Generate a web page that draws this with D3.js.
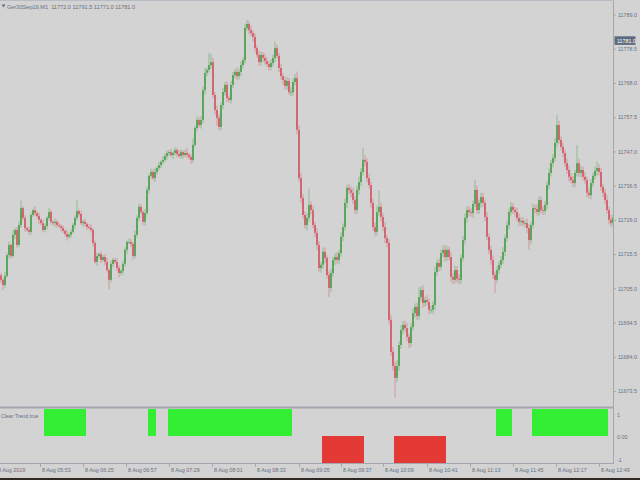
<!DOCTYPE html>
<html><head><meta charset="utf-8">
<script src="https://cdn.jsdelivr.net/npm/d3@7"></script>
<style>body{margin:0;background:#d3d3d3;} svg{display:block}</style>
</head><body><svg id="c" width="640" height="480"></svg>
<script>
const title = "Ger30Sep19,M1  11772.0 11791.5 11771.0 11781.0";
const firstOpen = 11709.0;
const closes = [
11707.6,11706.0,11708.8,11715.2,11718.3,11714.9,11721.4,11722.9,11718.3,11724.4,
11729.6,11726.6,11723.5,11722.9,11722.3,11727.5,11729.0,11728.1,11727.2,11726.0,
11725.0,11722.9,11724.1,11726.6,11728.4,11725.4,11725.0,11725.4,11724.4,11724.1,
11723.5,11722.6,11721.7,11720.8,11721.4,11722.3,11724.4,11726.6,11728.7,11727.8,
11725.0,11725.4,11724.7,11723.8,11723.5,11722.9,11718.9,11713.1,11714.9,11715.5,
11713.7,11714.6,11713.1,11710.6,11707.6,11712.5,11713.7,11713.1,11711.2,11709.7,
11710.3,11712.5,11716.8,11719.2,11719.2,11718.6,11714.9,11721.4,11726.6,11730.0,
11728.4,11725.4,11728.1,11735.2,11739.5,11740.7,11738.8,11740.7,11741.9,11742.8,
11743.8,11744.4,11745.6,11746.5,11746.8,11745.9,11746.5,11747.4,11746.2,11745.6,
11746.8,11745.9,11746.5,11745.9,11745.3,11744.4,11749.0,11754.2,11756.6,11755.1,
11756.6,11765.8,11771.1,11772.0,11773.5,11774.4,11764.3,11759.7,11757.3,11754.5,
11761.2,11765.2,11767.4,11763.4,11762.8,11767.4,11770.4,11771.4,11770.1,11771.4,
11773.5,11775.0,11784.9,11786.1,11784.2,11783.3,11782.1,11778.7,11776.6,11774.4,
11776.6,11775.7,11774.7,11773.8,11772.9,11774.1,11775.7,11778.7,11776.3,11772.6,
11770.1,11768.9,11767.1,11768.6,11765.2,11765.2,11768.3,11769.5,11753.6,11738.8,
11732.7,11727.5,11724.4,11726.6,11730.6,11729.0,11724.4,11722.0,11718.3,11711.2,
11712.2,11716.2,11714.3,11709.1,11705.1,11709.7,11713.7,11714.6,11713.7,11715.8,
11720.8,11723.8,11731.2,11735.8,11735.2,11734.3,11732.1,11729.0,11735.2,11737.6,
11740.7,11744.4,11743.8,11738.8,11736.7,11731.2,11723.8,11722.3,11728.4,11730.0,
11726.9,11723.8,11720.4,11718.9,11695.3,11685.5,11681.2,11677.5,11681.2,11687.6,
11692.2,11693.8,11692.8,11690.1,11688.2,11693.1,11697.4,11699.3,11696.5,11702.3,
11704.5,11700.5,11701.4,11700.8,11698.4,11698.4,11699.9,11710.0,11712.8,11711.6,
11715.8,11716.8,11714.6,11716.8,11714.6,11708.5,11707.6,11710.6,11707.9,11707.6,
11714.3,11719.8,11726.6,11729.0,11728.4,11728.1,11730.9,11735.2,11729.0,11731.2,
11733.0,11731.2,11726.9,11720.8,11716.8,11713.7,11709.1,11707.6,11710.6,11712.2,
11713.7,11716.2,11720.4,11724.4,11728.4,11730.0,11729.0,11728.4,11726.6,11725.4,
11725.7,11725.0,11725.0,11723.5,11719.8,11724.4,11729.6,11729.3,11728.4,11732.1,
11729.0,11728.7,11730.6,11736.7,11740.4,11743.4,11745.0,11749.6,11755.1,11750.5,
11748.4,11746.5,11743.4,11741.3,11739.2,11738.2,11737.3,11740.4,11743.4,11740.4,
11741.3,11739.2,11738.2,11734.3,11733.6,11737.3,11739.5,11741.0,11741.9,11740.7,
11736.1,11734.3,11732.1,11729.0,11726.0,11725.0,11726.6];
const wickUp = [
0.8,0.5,1.2,0.6,1.0,0.4,1.5,0.7,0.9,1.1,
2.5,0.6,0.8,0.5,1.0,0.7,0.4,1.2,0.6,0.9,
0.5,1.1,0.7,0.6,1.3,0.8,0.5,1.0,0.6,0.9,
0.6,0.8,0.5,1.2,0.7,1.0,0.6,0.9,3.5,0.5,
0.9,0.6,1.0,0.5,0.8,1.2,0.6,0.7,1.1,0.5,
0.8,0.6,0.9,1.3,0.5,1.0,0.7,0.6,1.2,0.8,
0.6,1.0,0.7,0.5,1.1,0.9,0.6,1.4,0.8,1.0,
0.7,0.5,1.2,0.9,0.6,1.0,0.8,1.3,0.6,0.9,
0.5,1.1,0.7,0.8,0.6,1.0,0.5,0.9,0.7,1.2,
0.8,0.6,1.0,1.5,0.7,0.9,2.0,0.6,1.1,0.8,
1.2,1.0,1.5,0.8,3.7,2.5,1.2,0.9,1.4,1.0,
0.8,1.3,0.9,1.1,0.7,1.2,1.0,0.8,1.5,0.9,
1.1,0.8,1.3,1.2,1.0,1.4,0.9,1.1,0.8,1.2,
1.0,0.9,1.3,1.1,0.8,1.2,1.0,2.0,1.1,0.9,
1.2,0.8,1.0,1.3,0.9,1.5,1.1,1.2,2.0,1.4,
1.6,1.2,1.0,1.4,5.0,1.1,1.3,0.9,1.5,1.2,
1.0,1.4,1.2,0.8,1.1,1.3,0.9,1.2,1.5,1.0,
1.3,1.1,1.4,0.9,1.2,1.0,1.5,1.1,1.3,1.6,
1.2,3.7,1.4,1.1,1.3,1.0,1.2,1.4,2.0,5.0,
1.3,1.1,1.5,1.0,1.2,1.4,1.6,1.3,1.8,1.2,
1.5,1.1,1.3,1.6,1.0,1.2,1.4,1.1,1.3,3.0,
1.2,1.4,1.0,1.5,1.1,1.3,1.2,1.6,1.0,1.4,
1.1,1.3,1.5,1.2,1.0,1.4,1.1,1.3,1.2,1.5,
1.0,1.2,1.4,1.1,1.3,1.2,1.0,3.0,1.4,1.1,
1.3,1.2,1.0,1.5,1.1,1.2,1.4,1.0,1.3,1.1,
1.2,1.4,1.0,1.3,1.1,1.5,1.2,1.0,1.3,1.4,
1.1,1.2,1.0,1.4,1.2,1.1,1.3,1.0,1.5,1.2,
1.0,1.3,1.2,1.1,1.4,1.0,1.2,1.5,3.0,1.3,
1.1,1.2,1.0,1.4,1.3,1.1,1.2,1.0,5.5,1.3,
1.2,1.0,1.4,1.1,1.3,1.2,1.0,1.4,2.0,1.1,
1.3,1.0,1.2,1.4,1.1,1.5,1.2];
const wickDn = [
1.0,1.5,0.8,0.6,1.0,0.7,0.5,1.2,0.8,0.6,
0.9,0.7,1.1,0.5,0.8,1.0,0.6,0.9,0.7,1.2,
0.6,0.8,0.5,1.0,0.7,0.9,0.6,1.1,0.8,0.5,
1.0,0.7,0.8,1.2,0.6,0.9,0.5,1.0,0.7,0.8,
0.6,1.1,0.7,0.9,0.5,0.8,1.0,0.6,1.2,0.7,
0.9,0.6,1.0,0.7,3.0,0.8,1.1,0.6,0.9,1.3,
0.7,1.0,0.8,1.2,0.6,0.9,1.1,0.7,0.8,1.0,
0.6,0.9,1.2,0.7,1.0,0.8,0.6,1.1,0.9,0.7,
1.0,0.8,0.6,1.1,0.9,0.7,1.2,0.8,1.0,0.6,
0.9,1.1,0.7,1.0,0.8,1.2,0.9,0.7,1.0,0.8,
1.1,0.9,1.3,1.0,0.8,1.2,1.0,1.4,2.5,1.1,
0.9,1.2,1.0,1.3,0.8,1.1,1.0,0.9,1.2,1.0,
1.3,1.0,1.1,0.9,1.2,1.0,1.4,1.1,0.9,1.2,
1.0,1.3,1.1,0.9,1.2,1.0,1.1,1.3,0.9,1.2,
1.1,1.4,1.0,1.2,0.9,1.3,1.1,1.0,1.4,1.2,
1.5,1.3,1.1,1.6,1.2,1.4,1.0,1.3,1.5,1.1,
1.4,1.2,1.6,1.0,2.8,1.3,1.1,1.5,1.2,1.4,
1.1,1.3,1.0,1.5,1.2,1.4,1.1,1.3,1.0,1.5,
1.2,1.0,1.4,1.3,1.1,1.5,1.2,1.4,1.1,1.3,
1.4,1.2,1.5,1.3,1.1,1.2,1.4,6.0,1.3,1.5,
1.2,1.4,1.1,1.3,1.5,1.2,1.0,1.4,1.3,1.1,
1.3,1.5,1.2,1.0,1.4,1.1,1.3,1.5,1.2,1.4,
1.1,1.3,1.4,1.2,1.0,1.5,1.3,1.1,1.2,1.4,
1.2,1.0,1.3,1.4,1.1,1.2,1.5,1.0,1.3,1.2,
1.4,1.1,1.2,1.0,1.3,1.5,1.2,4.0,1.1,1.3,
1.0,1.2,1.4,1.1,1.3,1.0,1.2,1.4,1.1,1.3,
1.2,1.0,1.3,1.5,3.0,1.2,1.1,1.3,1.0,1.4,
1.1,1.2,1.0,1.4,1.3,1.1,1.2,1.0,1.3,1.2,
1.0,1.3,1.2,1.1,1.4,1.0,1.2,1.3,1.1,1.2,
1.3,1.1,1.2,1.4,1.0,1.3,1.2,1.1,1.4,1.0,
1.2,1.3,1.1,1.0,1.4,1.2,1.1];
const priceTicks = [11789.0,11778.5,11768.0,11757.5,11747.0,11736.5,11726.0,11715.5,11705.0,11694.5,11684.0,11673.5];
const currentPrice = 11781.0;
const timeLabels = ["8 Aug 2019","8 Aug 05:53","8 Aug 06:25","8 Aug 06:57","8 Aug 07:29","8 Aug 08:01","8 Aug 08:33","8 Aug 09:05","8 Aug 09:37","8 Aug 10:09","8 Aug 10:41","8 Aug 11:13","8 Aug 11:45","8 Aug 12:17","8 Aug 12:49"];
const timeLabelBar = [-2.5,19.5,41,62.5,84,105.5,127,149,170,191,213,234.5,256,277.5,299];
const indicatorName = "Clear Trend true";
const trendRunStart = [22,74,84,161,197,248,266];
const trendRunEnd   = [42,77,145,181,222,255,303];
const trendRunValue = [1,1,1,-1,-1,1,1];
const indicatorTicks = [1,0,-1];
const indicatorTickText = ["1","0.00","-1"];

const svg = d3.select("#c");
const FONT = "'Liberation Sans', Arial, sans-serif";
const N = closes.length;
const bars = closes.map((c,i)=>{
  const o = i===0 ? firstOpen : closes[i-1];
  return {i, o, c, h: Math.max(o,c)+wickUp[i], l: Math.min(o,c)-wickDn[i]};
});
const x = d3.scaleLinear().domain([0, N-1]).range([1, 613]);
const y = d3.scaleLinear().domain([11673.5, 11789.0]).range([391, 14.5]);
const yi = d3.scaleLinear().domain([-1, 1]).range([463, 409]);

svg.append("rect").attr("width",640).attr("height",480).attr("fill","#d3d3d3");
svg.append("defs").append("clipPath").attr("id","mainclip")
  .append("rect").attr("x",0).attr("y",0).attr("width",613).attr("height",406);

const BULL = "#3e9c3e", BEAR = "#d24e5b";
const g = svg.append("g").attr("clip-path","url(#mainclip)");
g.selectAll("line.wick").data(bars).join("line").attr("class","wick")
  .attr("x1",d=>x(d.i)).attr("x2",d=>x(d.i))
  .attr("y1",d=>y(d.h)).attr("y2",d=>y(d.l))
  .attr("stroke",d=>d.c>=d.o?BULL:BEAR).attr("stroke-opacity",0.45).attr("stroke-width",1);
g.selectAll("rect.body").data(bars).join("rect").attr("class","body")
  .attr("x",d=>x(d.i)-0.75).attr("width",1.5)
  .attr("y",d=>y(Math.max(d.o,d.c)))
  .attr("height",d=>Math.max(0.8, Math.abs(y(d.o)-y(d.c))))
  .attr("fill",d=>d.c>=d.o?BULL:BEAR);

// indicator histogram
const trend = new Array(N).fill(0);
trendRunStart.forEach((s,k)=>{ for(let i=s;i<=trendRunEnd[k];i++) trend[i]=trendRunValue[k]; });
const tb = trend.map((v,i)=>({i,v})).filter(d=>d.v!==0);
svg.append("g").selectAll("rect").data(tb).join("rect")
  .attr("x",d=>x(d.i)-1).attr("width",2)
  .attr("y",d=>yi(Math.max(d.v,0))).attr("height",d=>Math.abs(yi(d.v)-yi(0)))
  .attr("fill",d=>d.v>0?"#33ee33":"#e33a36").attr("shape-rendering","crispEdges");

// frames
const frame = "#a3a7b0";
svg.append("line").attr("x1",613.5).attr("x2",613.5).attr("y1",0).attr("y2",464).attr("stroke",frame);
svg.append("line").attr("x1",0).attr("x2",614).attr("y1",463.5).attr("y2",463.5).attr("stroke",frame);
svg.append("rect").attr("x",0).attr("y",406.5).attr("width",614).attr("height",2).attr("fill",frame);
svg.append("line").attr("x1",0).attr("x2",614).attr("y1",0.5).attr("y2",0.5).attr("stroke","#b8bcc4");

// price axis
const pa = svg.append("g").attr("transform","translate(613.5,0)")
  .call(d3.axisRight(y).tickValues(priceTicks).tickFormat(d3.format(".1f")).tickSize(2.5).tickPadding(2));
pa.select(".domain").remove();
pa.selectAll("line").attr("stroke",frame);
pa.selectAll("text").attr("font-family",FONT).attr("font-size",5.4).attr("fill","#6a7080");

// current price tag
const cp = svg.append("g");
cp.append("rect").attr("x",614.5).attr("y",y(currentPrice)-4.3).attr("width",21).attr("height",8.6).attr("fill","#5d6b80");
cp.append("text").attr("x",617).attr("y",y(currentPrice)+2).text(d3.format(".1f")(currentPrice))
  .attr("font-family",FONT).attr("font-size",5.4).attr("fill","#ffffff");

// time axis
const ta = svg.append("g").attr("transform","translate(0,463.5)")
  .call(d3.axisBottom(x).tickValues(timeLabelBar).tickFormat((d,k)=>timeLabels[k]).tickSize(3.5));
ta.select(".domain").remove();
ta.selectAll("line").attr("stroke",frame);
ta.selectAll("text").attr("text-anchor","start").attr("dx",1.5).attr("y",5).attr("dy","0.71em")
  .attr("font-family",FONT).attr("font-size",5.4).attr("fill","#6a7080");

// indicator labels
svg.append("g").selectAll("text").data(indicatorTicks).join("text")
  .attr("x",617).attr("y",(d,k)=>yi(d)+[8,3,-1][k]).text((d,k)=>indicatorTickText[k])
  .attr("font-family",FONT).attr("font-size",5.4).attr("fill","#6a7080");
svg.append("text").attr("x",1).attr("y",418).text(indicatorName)
  .attr("font-family",FONT).attr("font-size",5.2).attr("fill","#6a7080");

// title
svg.append("path").attr("d","M1.5,4.5 L5.5,4.5 L3.5,7.5 Z").attr("fill","#6a7080");
svg.append("text").attr("x",7).attr("y",8.5).text(title).attr("xml:space","preserve")
  .attr("font-family",FONT).attr("font-size",5.6).attr("fill","#6a7080");

// bottom strip
svg.append("rect").attr("x",0).attr("y",478).attr("width",640).attr("height",2).attr("fill","#2f2925");
</script></body></html>
